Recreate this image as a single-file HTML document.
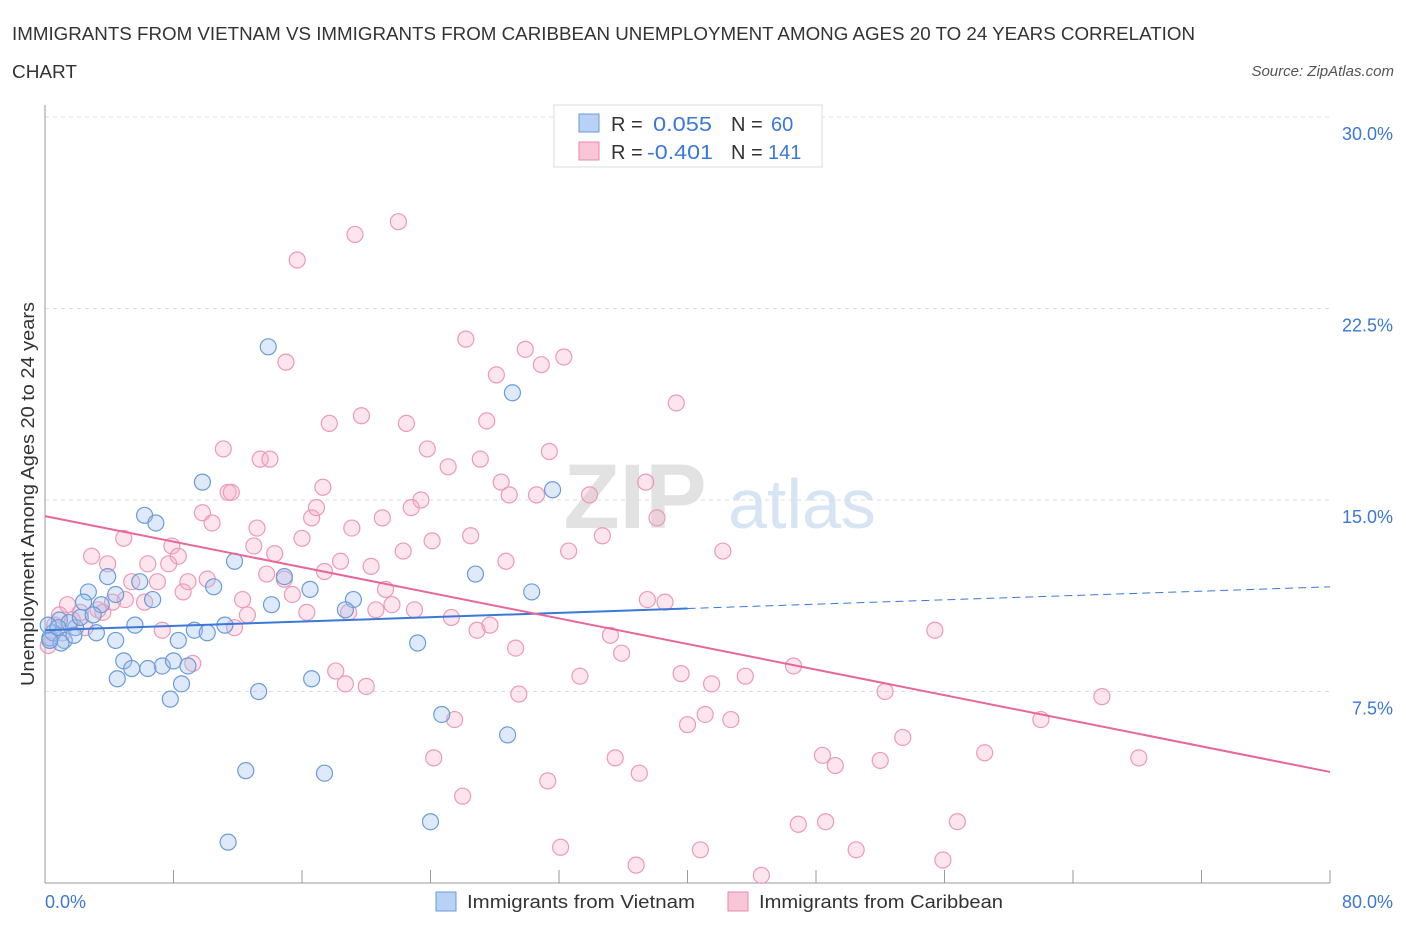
<!DOCTYPE html>
<html><head><meta charset="utf-8">
<style>
body{margin:0;background:#fff;font-family:"Liberation Sans",sans-serif;}
svg text{font-family:"Liberation Sans",sans-serif;}
</style></head>
<body>
<svg id="chart" width="1406" height="930" xmlns="http://www.w3.org/2000/svg">
<text x="12" y="40" font-size="18" fill="#333" textLength="1183" lengthAdjust="spacingAndGlyphs">IMMIGRANTS FROM VIETNAM VS IMMIGRANTS FROM CARIBBEAN UNEMPLOYMENT AMONG AGES 20 TO 24 YEARS CORRELATION</text>
<text x="12" y="78" font-size="18" fill="#333" textLength="65" lengthAdjust="spacingAndGlyphs">CHART</text>
<text x="1394" y="76" font-size="15" fill="#555" font-style="italic" text-anchor="end">Source: ZipAtlas.com</text>
<g>
<text x="635" y="528" font-size="92" fill="#e2e2e2" font-family="Liberation Serif" text-anchor="middle" font-weight="bold">ZIP</text>
<text x="802" y="528" font-size="70" fill="#d6e4f3" text-anchor="middle">atlas</text>
</g>
<g id="grid"></g>
<g id="axes"></g>
<g id="marks"></g>
<g>
<rect x="554" y="105" width="268" height="62" fill="#fff" stroke="#ddd"/>
<rect x="579" y="114" width="20" height="18" fill="#b7d2f5" stroke="#6b9bd8"/>
<text x="611" y="131" font-size="20" fill="#333">R =</text>
<text x="653" y="131" font-size="20" fill="#3b78d8" textLength="59" lengthAdjust="spacingAndGlyphs">0.055</text>
<text x="731" y="131" font-size="20" fill="#333">N =</text>
<text x="771" y="131" font-size="20" fill="#3b78d8">60</text>
<rect x="579" y="142" width="20" height="18" fill="#f8c6d6" stroke="#e88aa8"/>
<text x="611" y="159" font-size="20" fill="#333">R =</text>
<text x="647" y="159" font-size="20" fill="#3b78d8" textLength="66" lengthAdjust="spacingAndGlyphs">-0.401</text>
<text x="731" y="159" font-size="20" fill="#333">N =</text>
<text x="768" y="159" font-size="20" fill="#3b78d8">141</text>
</g>
<g>
<rect x="436" y="892" width="20" height="19" fill="#b7d2f5" stroke="#6b9bd8"/>
<text x="467" y="908" font-size="18" fill="#333" textLength="228" lengthAdjust="spacingAndGlyphs">Immigrants from Vietnam</text>
<rect x="728" y="892" width="20" height="19" fill="#f8c6d6" stroke="#e88aa8"/>
<text x="759" y="908" font-size="18" fill="#333" textLength="244" lengthAdjust="spacingAndGlyphs">Immigrants from Caribbean</text>
</g>
<text transform="translate(34,494) rotate(-90)" font-size="18" fill="#333" text-anchor="middle" textLength="384" lengthAdjust="spacingAndGlyphs">Unemployment Among Ages 20 to 24 years</text>
</svg>
<script>
const yTicks=[7.5,15,22.5,30];
const yTickLabels=["7.5%","15.0%","22.5%","30.0%"];
const xTicks=[0,8,16,24,32,40,48,56,64,72,80];
const xEndLabels=["0.0%","80.0%"];
const vietX=[13.9,29.1,9.8,31.6,6.2,6.9,11.8,26.8,3.9,14.9,30.3,10.5,5.9,2.7,4.4,19.2,3.5,2.4,14.1,18.7,6.7,16.5,0.9,1.9,3.2,5.6,9.3,10.1,11.2,8.3,4.4,1.2,0.3,23.2,4.9,5.4,7.3,6.4,8.0,8.9,4.5,8.5,16.6,13.3,7.8,24.7,28.8,12.5,17.4,24.0,11.4,0.5,1.5,2.2,0.2,1.0,3.0,0.8,0.3,1.8];
const vietY=[21.0,19.2,15.7,15.4,14.4,14.1,12.6,12.1,12.0,12.0,11.4,11.6,11.8,11.4,11.3,11.1,10.9,11.0,10.9,10.7,11.1,11.5,10.3,10.0,9.8,10.1,9.9,9.8,10.1,9.5,9.5,9.5,9.6,9.4,8.7,8.4,8.5,8.4,8.7,8.5,8.0,7.8,8.0,7.5,7.2,6.6,5.8,4.4,4.3,2.4,1.6,9.8,10.2,10.4,10.1,9.4,10.5,10.0,9.5,9.7];
const caribX=[22.0,19.3,15.7,26.2,29.9,32.3,15.0,30.9,28.1,39.3,19.7,27.5,22.5,17.7,11.1,23.8,31.4,27.1,13.4,14.0,25.1,37.4,28.4,17.3,11.4,11.6,33.9,28.9,30.6,23.4,22.8,16.9,9.8,38.1,21.0,16.6,10.4,19.1,13.2,26.5,4.9,34.7,16.0,24.1,7.9,13.0,22.3,32.6,42.2,14.3,2.9,8.3,18.4,28.7,3.9,6.4,7.7,20.3,17.4,13.8,10.1,14.9,5.4,7.0,8.9,21.2,8.6,15.4,12.3,5.0,37.5,38.6,4.2,6.2,21.6,20.6,23.0,16.3,18.9,12.6,25.3,3.3,1.4,2.2,0.9,11.8,7.3,27.7,26.9,55.4,35.2,29.3,35.9,9.2,46.6,18.1,39.6,33.3,43.6,41.5,18.7,20.0,29.5,52.3,65.8,62.0,41.1,42.7,40.0,25.5,53.4,58.5,48.4,24.2,35.5,68.1,52.0,49.2,37.0,31.3,26.0,48.6,56.8,46.9,32.1,40.8,50.5,55.9,36.8,44.6,0.3,0.6,1.1,1.7,2.5,0.2,3.6];
const caribY=[25.9,25.4,24.4,21.3,20.9,20.6,20.4,20.3,19.9,18.8,18.3,18.1,18.0,18.0,17.0,17.0,16.9,16.6,16.6,16.6,16.3,15.7,15.7,15.5,15.3,15.3,15.2,15.2,15.2,15.0,14.7,14.7,14.5,14.3,14.3,14.3,14.1,13.9,13.9,13.6,13.5,13.6,13.5,13.4,13.2,13.2,13.0,13.0,13.0,12.9,12.8,12.8,12.6,12.6,12.5,12.5,12.5,12.4,12.2,12.1,11.9,11.9,11.8,11.8,11.8,11.5,11.4,11.3,11.1,11.1,11.1,11.0,11.0,11.0,10.9,10.7,10.7,10.6,10.6,10.5,10.4,10.7,10.9,10.6,10.5,10.0,9.9,10.1,9.9,9.9,9.7,9.2,9.0,8.6,8.5,8.3,8.2,8.1,8.1,7.8,7.8,7.7,7.4,7.5,7.3,6.4,6.6,6.4,6.2,6.4,5.7,5.1,5.0,4.9,4.9,4.9,4.8,4.6,4.3,4.0,3.4,2.4,2.4,2.3,1.4,1.3,1.3,0.9,0.7,0.3,9.5,10.1,9.8,10.3,10.0,9.3,10.6];
const vietTrend=[9.9,11.6];
const caribTrend=[14.37,4.35];

const NS="http://www.w3.org/2000/svg";
const X=v=>45+v*(1285/80);
const Y=v=>883-v*(766/30);
function mk(tag,attrs,parent){const e=document.createElementNS(NS,tag);for(const k in attrs)e.setAttribute(k,attrs[k]);parent.appendChild(e);return e;}
const grid=document.getElementById('grid'),axes=document.getElementById('axes'),marks=document.getElementById('marks');
yTicks.forEach((t,i)=>{
 const l=mk('line',{x1:45,x2:1330,y1:Y(t),y2:Y(t),stroke:'#ddd','stroke-dasharray':'4,4'},grid);
 
 
 const tx=mk('text',{x:1393,y:Y(t)+23,'font-size':18,fill:'#3b78d8','text-anchor':'end'},axes);
 tx.textContent=yTickLabels[i];
 
 
});
const ax=mk('line',{x1:45,x2:1330,y1:883,y2:883,stroke:'#999'},axes);


const ay=mk('line',{x1:45,x2:45,y1:105,y2:883,stroke:'#999'},axes);


xTicks.forEach(t=>{
 const l=mk('line',{x1:X(t),x2:X(t),y1:883,y2:870,stroke:'#999'},axes);
 
 
});
const xl0=mk('text',{x:45,y:908,'font-size':18,fill:'#3b78d8'},axes);xl0.textContent=xEndLabels[0];


const xl1=mk('text',{x:1393,y:908,'font-size':18,fill:'#3b78d8','text-anchor':'end'},axes);xl1.textContent=xEndLabels[1];



caribX.forEach((x,i)=>{
 const c=mk('circle',{cx:X(x),cy:Y(caribY[i]),r:8,fill:'rgba(244,170,196,0.3)',stroke:'#ec9ab6','stroke-width':1.2},marks);
 
 
});
vietX.forEach((x,i)=>{
 const c=mk('circle',{cx:X(x),cy:Y(vietY[i]),r:8,fill:'rgba(160,196,240,0.35)',stroke:'#6b9bd8','stroke-width':1.2},marks);
 
 
});
const slope=(vietTrend[1]-vietTrend[0])/80;
const mid=vietTrend[0]+slope*40;
const t1=mk('line',{x1:X(0),y1:Y(vietTrend[0]),x2:X(40),y2:Y(mid),stroke:'#3b78d8','stroke-width':2},marks);


const t2=mk('line',{x1:X(40),y1:Y(mid),x2:X(80),y2:Y(vietTrend[1]),stroke:'#3b78d8','stroke-width':1,'stroke-dasharray':'8,5'},marks);


const t3=mk('line',{x1:X(0),y1:Y(caribTrend[0]),x2:X(80),y2:Y(caribTrend[1]),stroke:'#e8679a','stroke-width':2},marks);


</script>
</body></html>
